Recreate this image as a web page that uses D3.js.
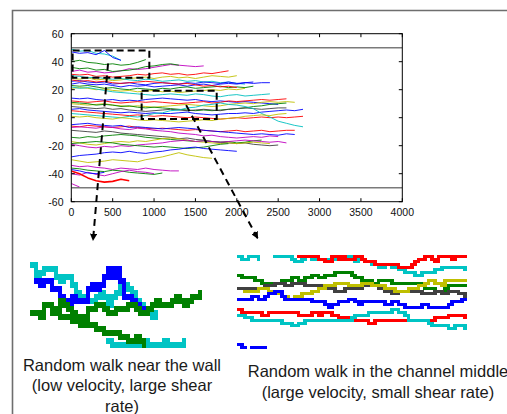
<!DOCTYPE html>
<html>
<head>
<meta charset="utf-8">
<script src="https://cdn.jsdelivr.net/npm/d3@7"></script>
<style>
  body { margin: 0; background: #fff; }
  svg { display: block; font-family: "Liberation Sans", Arial, sans-serif; }
</style>
</head>
<body>
<svg width="507" height="414"></svg>
<script>
// ---------------- data ----------------
// main plot: random walks, y value every 100 units of x, starting at x = 0
var xStep = 100;
var xTicks = [0, 500, 1000, 1500, 2000, 2500, 3000, 3500, 4000];
var yTicks = [-60, -40, -20, 0, 20, 40, 60];
var wallY = [-50, 50];

var walkColors = ["c","b","g","m","g","r","y","c","b","b","g","r","y","c","b","r","y","g","k","b",
                  "r","c","y","r","m","b","k","g","y","m","g","b","y","m","g","m","r","b","m"];

var walkValues = [
  [49,47.5,48,46,45.5,44,41],
  [47,46,46.5,45,48,43,41],
  [40,41,39.5,39,38,38.5,37.5,38,39.5,41.5],
  [33,34,32.5,33,32,32.5,33.5,35,34.5,35,36,37,38,37.5,37,36.5,37],
  [36,35,35.5,34,34.5,33,33.5,34,35,36.5,37,38,38.5,37.5],
  [31,30.5,31,29.5,30,29,29.5,30,31,30.5,31.5,32,31,31.5,30.5,31,32,31.5,32.5,33.5],
  [28,27.5,28.5,27,27.5,26.5,27,28,28.5,29,28,29,29.5,28.5,29,28,29,30,29.5,29,30],
  [30,29.5,28.5,29,28,27.5,28,27,26.5,27.5,27,26,26.5,27,26,26.5,25.5,26,25,25.5,24.5,24],
  [26,26.5,25.5,25,25.5,24,24.5,25,24,23.5,24.5,25,24.5,24,25,24.5,25.5,25,24.5,25.5,24.5,25,25.5],
  [24,25,24,23.5,24,23,22,23,22.5,23,22,22.5,23,23.5,22.5,23.5,24,23,24,24.5,24,25,24.5,25,25],
  [23,22.5,23,22,21,21.5,20.5,20,21,20.5,20,21,20.5,21.5,22,21,21.5,22,22.5,21.5,22,21.5,22.5],
  [27,26,26.5,25.5,26,25,24.5,25,25.5,26,25.5,25,24.5,24,24.5,23.5,22.5,23,22,22.5,21.5],
  [21,21.5,21,20,20.5,19.5,19,19.5,18.5,19,19.5,18.5,19,18,18.5,19,19.5,20,19.5,20.5,20,21],
  [22,21,21.5,20.5,19.5,18.5,18,17.5,17,16.5,16,16.5,17,16.5,16,17,16.5,15.5,15,16,16.5,15.5,16,16.5,17],
  [14,13.5,14,13,12.5,13,12,12.5,12,13,13.5,14,13.5,13,12.5,13,12,11.5,12,11.5,11,11.5,11,10.5,10,9.5],
  [12,11.5,11,11.5,12,11,10.5,11,11.5,11,11.5,11,10.5,10,10.5,11,11.5,10.5,11,12,11.5,12,12.5,13,12.5,13,13.5],
  [10,9.5,9,9.5,10,9,8.5,8,8.5,8,7.5,8,8.5,9,9.5,9,8.5,8,8.5,9.5,10,10.5,10,11,11.5,11,11.5,11],
  [11,10.5,10,9,9.5,9,8,8.5,7.5,7,7.5,7,6.5,6,5.5,5,5.5,5,5.5,6,6.5,7,8,8.5,9.5,10,10.5],
  [8,7.5,7,6.5,7,6,6.5,5.5,5,4.5,5,5.5,6,5.5,5,5.5,6,5.5,5,6,6.5,7,6.5,6,6.5,7,7],
  [6,6.5,5.5,5,4.5,4,3.5,4,3.5,3,3.5,3,3,3.5,4,3,2.5,2,2.5,3,3,3.5,3,4,4.5,5,5.5,5,6],
  [5,4.5,4,3.5,3,2.5,2,1.5,2,1.5,1,1.5,1,0.5,0,0.5,0,-0.5,-1,-0.5,0,-0.5,0,0.5,0,0.5,0,0.5,1],
  [3,2.5,2,1.5,1,0.5,0,1,0.5,1.5,3,3.5,5,5.5,7,7.5,9,9.5,10.5,9.5,9,8,6.5,3,0.5,-2.5,-4,-5.5,-6.5],
  [1,0.5,1,0,-0.5,-1,0,-0.5,-1.5,-2,-1.5,-2,-2.5,-3,-2.5,-2,-1.5,-2,-1,-0.5,0,1,1.5,2,1.5,2.5,3],
  [-6,-6.5,-5.5,-6,-6.5,-7,-6.5,-6,-7,-7.5,-8,-7.5,-8,-8.5,-9,-8.5,-9,-9.5,-10,-9.5,-9,-10,-9.5,-9,-10,-9.5,-9,-9],
  [-7,-6.5,-7,-7.5,-6.5,-7,-8,-8.5,-7.5,-8,-9,-9.5,-10,-11,-11.5,-12,-13,-12.5,-13.5,-14,-14.5,-14,-13.5,-14,-13,-13.5],
  [-5,-4.5,-4,-5,-5.5,-6,-5.5,-7,-6.5,-7,-7.5,-8,-7.5,-7,-7.5,-8,-9,-9.5,-10,-10.5,-11,-11.5,-12,-11.5,-12,-12.5,-11.5,-12],
  [-9,-9.5,-10,-10.5,-9.5,-10,-11,-11.5,-12,-12.5,-13,-13.5,-14,-15,-14.5,-15.5,-16,-17,-17.5,-18,-18.5,-18,-19,-19.5,-20,-19.5],
  [-14,-14.5,-13.5,-14,-13,-12.5,-12,-12.5,-13,-14,-14.5,-15,-15.5,-16,-16.5,-17,-16.5,-17,-17.5,-17,-18,-17.5,-16.5,-16],
  [-17,-18,-19,-19.5,-18.5,-17.5,-17,-17.5,-16.5,-17,-16,-15,-14.5,-15,-16,-17,-17.5,-18,-18.5,-18,-18.5,-18,-17.5,-18,-18.5],
  [-19,-20,-21,-21.5,-20.5,-21,-20,-20.5,-19.5,-19,-18.5,-18,-17,-16.5,-16,-17,-16.5,-17,-17.5,-17,-16.5,-16,-16.5,-17,-17.5,-17,-18],
  [-18.5,-18,-17.5,-17,-17.5,-18,-19,-19.5,-20,-20.5,-21,-20.5,-21,-21.5,-22,-21.5,-21,-20,-19,-18.5],
  [-28,-27,-26.5,-26,-25,-24.5,-25,-24,-25,-25.5,-24.5,-24,-23,-22.5,-21.5,-21,-22,-22.5,-23,-23.5,-24],
  [-30,-31,-32,-31.5,-31,-30,-30.5,-31,-31.5,-30,-29,-28,-26.5,-25,-26.5,-27.5,-28.5,-29],
  [-34,-35,-34.5,-35.5,-36,-37,-36,-36.5,-37,-36,-37,-37.5,-38,-38],
  [-36,-36.5,-37.5,-38,-38.5,-37.5,-38,-39,-39.5,-40,-40.5,-39.5],
  [-40,-41,-39,-40.5,-41.5,-40,-38.5,-37.5,-38.5,-39,-40],
  [-38,-40,-43,-45,-46,-45.5,-44,-45],
  [-37,-38,-39.5,-40,-39],
  [-47,-49.5]
];

// zoom boxes [x0, x1, yTop, yBottom] and pointer lines [[x,y],[x,y]] in data units
var zoomBoxes = [[16, 943, 48, 28.5], [850, 1757, 19.2, -1]];
var pointers = [[[444, 38.7], [262, -88]], [[1388, 9], [2256, -86.6]]];

// left inset (near wall): row per column, first column given
var leftColors = ["c", "c", "b", "g", "g"];
var leftStart = [19, 0, 1, 0, 5];
var leftRows = [
  [19,20,20,20,20,20,20,20,20,19,20,20,20,20,19,20,20,20,20,19],
  [0,3,2,1,1,1,3,4,3,3,5,7,8,9,9,9,8,7,8,10,8,7,5,5,6,7,9,10,11,12,13,12],
  [4,5,4,4,6,6,8,9,10,8,9,9,9,6,5,6,5,3,1,3,1,4,8,8,9,10,11,11,11,10,9,10,10,10],
  [12,12,13,10,10,11,11,9,10,11,12,13,13,14,11,11,10,10,11,12,12,11,11,11,10,10,11,12,12,11,10,9,10,10,10,9,8,9,10,9,8,8,7],
  [12,12,13,13,13,14,14,15,15,15,15,16,16,17,17,17,17,18,18,19,19,18,19,20]
];

// right inset (channel middle)
var rightColors = ["c", "r", "g", "k", "y", "b", "r", "c", "b"];
var rightStart = [0, 18, 0, 0, 2, 0, 0, 0, 0];
var rightRows = [
  [0,1,1,0,0,0,1,null,null,null,null,0,0,0,0,0,1,2,2,1,0,0,1,1,1,1,1,1,1,1,1,1,1,0,0,2,1,1,2,2,3,3,4,4,3,3,4,4,5,5,6,6,6,7,7,6,6,6,6,5,5,4,4,4,4,4,4,4,5],
  [0,0,0,0,0,0,1,1,2,2,0,0,1,0,1,1,1,0,0,1,2,2,2,3,3,3,3,3,3,3,4,4,4,4,3,2,1,1,0,0,1,2,0,0,0,0,1,0,0,0,0],
  [7,8,8,8,8,9,9,10,11,10,10,10,10,9,9,9,8,8,9,9,8,8,7,7,8,8,7,7,7,6,6,6,6,6,7,8,8,9,9,9,10,10,9,9,9,9,10,10,10,10,10,10,10,10,10,11,12,12,12,13,13,13,12,11,11,11,11,11,11],
  [12,12,12,12,12,12,12,12,11,11,11,10,10,10,11,11,10,10,10,10,11,11,11,11,11,11,12,12,12,13,13,13,12,12,12,12,12,11,11,11,11,11,12,12,13,13,14,14,13,13,13,13,13,13,13,14,14,14,14,13,13,14,14,13,13,13,14,14,15],
  [13,13,13,13,12,12,12,13,13,14,14,15,15,16,16,15,15,14,14,14,13,13,12,12,11,11,11,10,10,10,10,11,11,11,11,10,10,10,11,11,11,11,12,12,12,13,13,13,13,12,12,12,11,11,10,9,9,10,10,11,9,9,9,9,9,9,9],
  [16,16,16,16,15,15,16,16,15,14,14,13,13,15,16,16,16,16,16,16,16,16,17,17,17,17,18,19,18,18,17,17,17,16,16,17,18,17,17,17,17,17,17,17,18,18,17,17,18,18,19,19,19,19,19,18,18,19,19,19,19,19,19,18,17,17,17,16,16],
  [20,21,21,21,21,21,21,22,22,21,21,21,21,21,21,21,21,21,22,22,22,22,21,21,22,21,21,21,22,22,23,23,23,24,24,24,24,24,24,25,25,24,24,24,24,24,24,24,24,24,24,24,24,24,24,24,24,24,24,23,23,23,23,22,22,22,22,22,23],
  [22,22,23,23,24,24,24,24,24,24,24,24,24,25,25,25,26,26,25,25,24,24,24,24,24,24,24,24,24,24,24,24,24,24,23,22,22,22,22,21,21,21,21,21,21,21,20,20,21,21,22,24,24,24,24,24,24,25,26,26,26,26,26,27,27,26,26,26,27],
  [33,34,34,null,34,34,34,34,34]
];

// ---------------- drawing ----------------
var matlab = { b: "#0000ff", g: "#008000", r: "#ff0000", c: "#00bfbf", m: "#bf00bf", y: "#bfbf00", k: "#404040" };

var svg = d3.select("svg");
svg.append("rect").attr("width", 507).attr("height", 414).attr("fill", "#fff");

// outer figure frame
svg.append("path")
    .attr("d", "M12.5,414 V10.5 H507")
    .attr("fill", "none").attr("stroke", "#6e6e6e").attr("stroke-width", 1.6);

var x = d3.scaleLinear().domain([0, 4000]).range([71.3, 402.3]);
var y = d3.scaleLinear().domain([-60, 60]).range([201.7, 33.7]);

svg.append("clipPath").attr("id", "plotclip")
  .append("rect")
    .attr("x", x(0)).attr("y", y(60))
    .attr("width", x(4000) - x(0)).attr("height", y(-60) - y(60));

var line = d3.line()
    .x(function(d, i) { return x(i * xStep); })
    .y(function(d) { return y(d); });

var plot = svg.append("g").attr("clip-path", "url(#plotclip)");

plot.selectAll(".walk")
    .data(walkValues)
    .enter().append("path")
    .attr("class", "walk")
    .attr("d", line)
    .attr("fill", "none")
    .attr("stroke", function(d, i) { return matlab[walkColors[i]]; })
    .attr("stroke-width", function(d, i) { return i == 36 ? 1.6 : 0.9; })
    .attr("stroke-linejoin", "round");

// walls
plot.selectAll(".wall")
    .data(wallY)
    .enter().append("line")
    .attr("x1", x(0)).attr("x2", x(4000))
    .attr("y1", function(d) { return y(d); })
    .attr("y2", function(d) { return y(d); })
    .attr("stroke", "#7a7a7a").attr("stroke-width", 1.6);

// axes box + inward ticks
var axes = svg.append("g");
axes.append("rect")
    .attr("x", x(0)).attr("y", y(60))
    .attr("width", x(4000) - x(0)).attr("height", y(-60) - y(60))
    .attr("fill", "none").attr("stroke", "#000").attr("stroke-width", 1);

xTicks.forEach(function(t) {
    axes.append("line").attr("x1", x(t)).attr("x2", x(t))
        .attr("y1", y(-60)).attr("y2", y(-60) - 3.5).attr("stroke", "#000");
    axes.append("line").attr("x1", x(t)).attr("x2", x(t))
        .attr("y1", y(60)).attr("y2", y(60) + 3.5).attr("stroke", "#000");
});
yTicks.forEach(function(t) {
    axes.append("line").attr("x1", x(0)).attr("x2", x(0) + 3.5)
        .attr("y1", y(t)).attr("y2", y(t)).attr("stroke", "#000");
    axes.append("line").attr("x1", x(4000)).attr("x2", x(4000) - 3.5)
        .attr("y1", y(t)).attr("y2", y(t)).attr("stroke", "#000");
});

axes.selectAll(".xlab")
    .data(xTicks).enter().append("text")
    .attr("x", function(d) { return x(d); })
    .attr("y", 215.5)
    .attr("text-anchor", "middle")
    .attr("font-size", "10.5px")
    .attr("fill", "#111")
    .text(function(d) { return d; });

axes.selectAll(".ylab")
    .data(yTicks).enter().append("text")
    .attr("x", 63.5)
    .attr("y", function(d) { return y(d) + 3.8; })
    .attr("text-anchor", "end")
    .attr("font-size", "10.5px")
    .attr("fill", "#111")
    .text(function(d) { return d; });

// dashed zoom boxes
svg.selectAll(".zbox")
    .data(zoomBoxes).enter().append("rect")
    .attr("x", function(d) { return x(d[0]); })
    .attr("y", function(d) { return y(d[2]); })
    .attr("width", function(d) { return x(d[1]) - x(d[0]); })
    .attr("height", function(d) { return y(d[3]) - y(d[2]); })
    .attr("fill", "none")
    .attr("stroke", "#000").attr("stroke-width", 2)
    .attr("stroke-dasharray", "7,4");

svg.append("defs").append("marker")
    .attr("id", "arrowhead")
    .attr("viewBox", "0 -5 10 10")
    .attr("refX", 10).attr("refY", 0)
    .attr("markerWidth", 3.6).attr("markerHeight", 3.6)
    .attr("orient", "auto")
  .append("path")
    .attr("d", "M0,-5L10,0L0,5Z")
    .attr("fill", "#000");

svg.selectAll(".pointer")
    .data(pointers).enter().append("path")
    .attr("d", d3.line().x(function(d) { return x(d[0]); }).y(function(d) { return y(d[1]); }))
    .attr("fill", "none")
    .attr("stroke", "#000").attr("stroke-width", 2)
    .attr("stroke-dasharray", "7,5")
    .attr("marker-end", "url(#arrowhead)");

// pixelated insets: one cell per column, filled between previous and current row
function drawInset(colors, starts, rows, xs, ys, thick) {
    var g = svg.append("g").attr("shape-rendering", "crispEdges");
    var cw = xs(1) - xs(0);
    rows.forEach(function(r, k) {
        var prev = null;
        r.forEach(function(v, j) {
            if (v === null) { prev = null; return; }
            var lo = prev === null ? v : Math.min(prev, v);
            var hi = prev === null ? v : Math.max(prev, v);
            g.append("rect")
                .attr("x", xs(starts[k] + j))
                .attr("y", ys(lo))
                .attr("width", cw + 0.3)
                .attr("height", ys(hi) - ys(lo) + thick)
                .attr("fill", matlab[colors[k]] == "#00bfbf" ? "#00c4c4" : matlab[colors[k]]);
            prev = v;
        });
    });
}

var lx = d3.scaleLinear().domain([0, 42]).range([30, 198]);
var ly = d3.scaleLinear().domain([0, 21]).range([262, 346]);
drawInset(leftColors, leftStart, leftRows, lx, ly, 5.5);

var rx = d3.scaleLinear().domain([0, 68]).range([236.7, 463.3]);
var ry = d3.scaleLinear().domain([0, 34]).range([255, 345.7]);
drawInset(rightColors, rightStart, rightRows, rx, ry, 3);

// captions
var capLeft = ["Random walk near the wall", "(low velocity, large shear", "rate)"];
var capRight = ["Random walk in the channel middle", "(large velocity, small shear rate)"];

svg.selectAll(".capl")
    .data(capLeft).enter().append("text")
    .attr("x", 122)
    .attr("y", function(d, i) { return 370.7 + i * 20.7; })
    .attr("text-anchor", "middle")
    .attr("font-size", "16.5px")
    .attr("fill", "#1a1a1a")
    .text(function(d) { return d; });

svg.selectAll(".capr")
    .data(capRight).enter().append("text")
    .attr("x", 378)
    .attr("y", function(d, i) { return 377.3 + i * 21; })
    .attr("text-anchor", "middle")
    .attr("font-size", "16.5px")
    .attr("fill", "#1a1a1a")
    .text(function(d) { return d; });
</script>
</body>
</html>
